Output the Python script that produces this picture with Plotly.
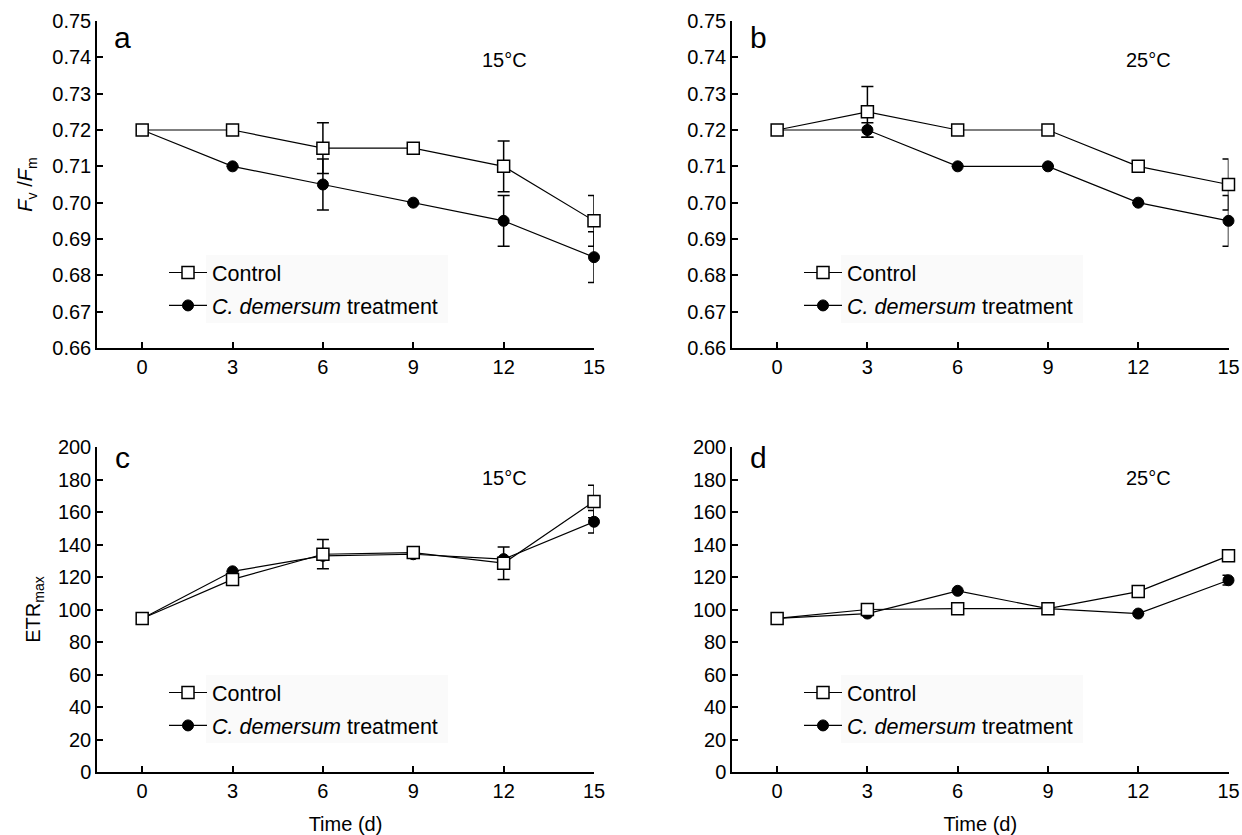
import plotly.graph_objects as go

# ---------------- data ----------------
days = [0, 3, 6, 9, 12, 15]
x_ticks = [0, 3, 6, 9, 12, 15]

# Panel a: Fv/Fm at 15 °C
fvfm15_control = [0.720, 0.720, 0.715, 0.715, 0.710, 0.695]
fvfm15_control_err = [0, 0, 0.007, 0, 0.007, 0.007]
fvfm15_treat = [0.720, 0.710, 0.705, 0.700, 0.695, 0.685]
fvfm15_treat_err = [0, 0, 0.007, 0, 0.007, 0.007]

# Panel b: Fv/Fm at 25 °C
fvfm25_control = [0.720, 0.725, 0.720, 0.720, 0.710, 0.705]
fvfm25_control_err = [0, 0.007, 0, 0, 0, 0.007]
fvfm25_treat = [0.720, 0.720, 0.710, 0.710, 0.700, 0.695]
fvfm25_treat_err = [0, 0.002, 0, 0, 0, 0.007]

# Panel c: ETRmax at 15 °C
etr15_control = [94.5, 118.5, 134, 135, 128.5, 166.5]
etr15_control_err = [0, 2, 9, 3, 10, 10]
etr15_treat = [94.5, 123.5, 133, 134, 131, 154]
etr15_treat_err = [0, 0, 0, 0, 0, 7]

# Panel d: ETRmax at 25 °C
etr25_control = [94.5, 100, 100.5, 100.5, 111, 133]
etr25_control_err = [0, 0, 0, 0, 0, 0]
etr25_treat = [94.5, 97.5, 111.5, 100.5, 97.5, 118]
etr25_treat_err = [0, 0, 0, 0, 0, 3]

fvfm_ticks = [0.66, 0.67, 0.68, 0.69, 0.70, 0.71, 0.72, 0.73, 0.74, 0.75]
etr_ticks = [0, 20, 40, 60, 80, 100, 120, 140, 160, 180, 200]

panel_letters = ["a", "b", "c", "d"]
panel_temps = ["15°C", "25°C", "15°C", "25°C"]
series_names = ["Control", "<i>C. demersum</i> treatment"]

# ---------------- figure ----------------
W, H = 1242, 835
FONT = "Liberation Sans, Arial, sans-serif"


def px(x):
    return x / W


def py(y):
    return 1 - y / H


fig = go.Figure()

panels = [
    (fvfm15_control, fvfm15_control_err, fvfm15_treat, fvfm15_treat_err),
    (fvfm25_control, fvfm25_control_err, fvfm25_treat, fvfm25_treat_err),
    (etr15_control, etr15_control_err, etr15_treat, etr15_treat_err),
    (etr25_control, etr25_control_err, etr25_treat, etr25_treat_err),
]
legend_ids = ["legend", "legend2", "legend3", "legend4"]

for i, (c, ce, t, te) in enumerate(panels):
    ax = "" if i == 0 else str(i + 1)
    lg = legend_ids[i]
    # treatment first so control squares sit on top
    fig.add_trace(go.Scatter(
        x=days, y=t, mode="lines+markers", name=series_names[1],
        xaxis="x" + ax, yaxis="y" + ax, legend=lg, legendrank=2,
        legendgroup="t%d" % i,
        line=dict(color="black", width=1.2),
        marker=dict(symbol="circle", size=11, color="black",
                    line=dict(color="black", width=1)),
        error_y=dict(type="data", array=te, visible=True, color="black",
                     thickness=1.5, width=6),
        cliponaxis=False,
    ))
    fig.add_trace(go.Scatter(
        x=days, y=c, mode="lines+markers", name=series_names[0],
        xaxis="x" + ax, yaxis="y" + ax, legend=lg, legendrank=1,
        legendgroup="c%d" % i,
        line=dict(color="black", width=1.2),
        marker=dict(symbol="square", size=12, color="white",
                    line=dict(color="black", width=1.5)),
        error_y=dict(type="data", array=ce, visible=True, color="black",
                     thickness=1.5, width=6),
        cliponaxis=False,
    ))

# domains (paper fractions, from reference page pixels)
xdom_left = [px(97), px(594)]
xdom_right = [px(732), px(1228.5)]
ydom_top = [py(348), py(21)]
ydom_bot = [py(772), py(447)]

TICK = 20
common_x = dict(range=[-1.5, 15], tickmode="array", tickvals=x_ticks,
                ticks="inside", ticklen=6, tickwidth=1.5, tickcolor="black",
                showline=True, linecolor="black", linewidth=1.5,
                showgrid=False, zeroline=False, automargin=False,
                tickfont=dict(size=TICK, color="black", family=FONT))
common_y = dict(ticks="inside", ticklen=6, tickwidth=1.5, tickcolor="black",
                showline=True, linecolor="black", linewidth=1.5,
                showgrid=False, zeroline=False, automargin=False,
                tickfont=dict(size=TICK, color="black", family=FONT))

fv_y = dict(common_y, range=[0.66, 0.75], tickmode="array",
            tickvals=fvfm_ticks, tickformat=".2f")
etr_y = dict(common_y, range=[0, 200], tickmode="array", tickvals=etr_ticks)

title_font = dict(size=20, color="black", family=FONT)

fig.update_layout(
    xaxis=dict(common_x, domain=xdom_left, anchor="y"),
    yaxis=dict(fv_y, domain=ydom_top, anchor="x",
               title=dict(text="<i>F</i><sub>v</sub> /<i>F</i><sub>m</sub>",
                          font=title_font, standoff=14)),
    xaxis2=dict(common_x, domain=xdom_right, anchor="y2"),
    yaxis2=dict(fv_y, domain=ydom_top, anchor="x2"),
    xaxis3=dict(common_x, domain=xdom_left, anchor="y3",
                title=dict(text="Time (d)", font=title_font, standoff=18)),
    yaxis3=dict(etr_y, domain=ydom_bot, anchor="x3",
                title=dict(text="ETR<sub>max</sub>", font=title_font, standoff=12)),
    xaxis4=dict(common_x, domain=xdom_right, anchor="y4",
                title=dict(text="Time (d)", font=title_font, standoff=18)),
    yaxis4=dict(etr_y, domain=ydom_bot, anchor="x4"),
)

legend_pos = [(164, 252), (799, 252), (164, 672), (799, 672)]
legend_common = dict(bgcolor="rgba(0,0,0,0)", borderwidth=0,
                     font=dict(size=21.5, color="black", family=FONT),
                     traceorder="grouped", tracegroupgap=2, itemwidth=38,
                     xanchor="left", yanchor="top",
                     itemclick=False, itemdoubleclick=False)
leg_layout = {}
for lid, (lx, ly) in zip(legend_ids, legend_pos):
    leg_layout[lid] = dict(legend_common, x=px(lx), y=py(ly))
fig.update_layout(**leg_layout)

# faint background behind legend texts
shapes = []
for (lx, ly) in legend_pos:
    x0 = lx + 42
    shapes.append(dict(type="rect", xref="paper", yref="paper", layer="below",
                       x0=px(x0), x1=px(x0 + 242), y0=py(ly + 71), y1=py(ly + 3),
                       fillcolor="#fafafa", line=dict(width=0)))

annotations = []
letter_pos = [(122, 38), (758, 38), (122, 458), (758, 458)]
temp_pos = [(505, 60), (1148, 60), (505, 478), (1148, 478)]
for letter, (lx, ly) in zip(panel_letters, letter_pos):
    annotations.append(dict(text=letter, x=px(lx), y=py(ly), xref="paper",
                            yref="paper", showarrow=False, xanchor="center",
                            yanchor="middle",
                            font=dict(size=30, color="black", family=FONT)))
for temp, (lx, ly) in zip(panel_temps, temp_pos):
    annotations.append(dict(text=temp, x=px(lx), y=py(ly), xref="paper",
                            yref="paper", showarrow=False, xanchor="center",
                            yanchor="middle",
                            font=dict(size=20, color="black", family=FONT)))

fig.update_layout(
    width=W, height=H,
    margin=dict(l=0, r=0, t=0, b=0),
    paper_bgcolor="white", plot_bgcolor="white",
    font=dict(family=FONT, color="black", size=20),
    shapes=shapes, annotations=annotations,
)

# remove the default page margin so the figure fills the window exactly
fig.write_html(
    "out.html",
    config={"displayModeBar": False},
    post_script="document.body.style.margin='0';"
                "document.body.style.overflow='hidden';",
)
